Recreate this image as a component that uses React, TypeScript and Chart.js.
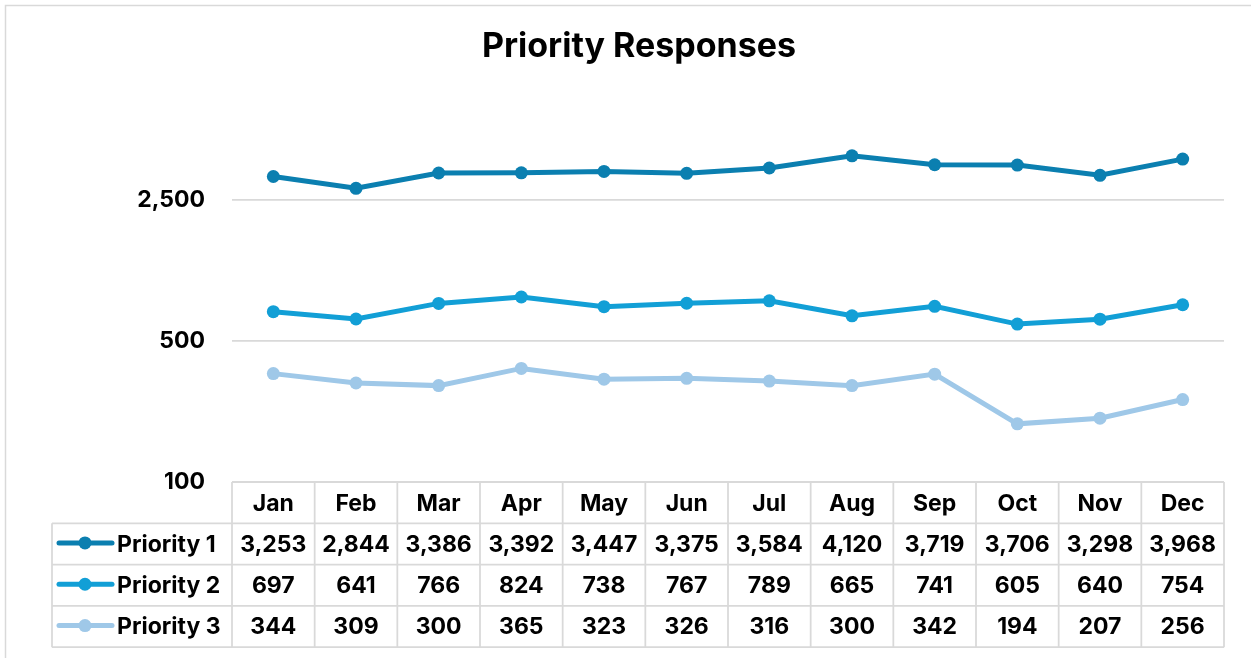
import { useEffect, useRef } from "react";
import { Chart, registerables } from "chart.js";

Chart.register(...registerables);

const months = ["Jan", "Feb", "Mar", "Apr", "May", "Jun", "Jul", "Aug", "Sep", "Oct", "Nov", "Dec"];
const priority1 = [3253, 2844, 3386, 3392, 3447, 3375, 3584, 4120, 3719, 3706, 3298, 3968];
const priority2 = [697, 641, 766, 824, 738, 767, 789, 665, 741, 605, 640, 754];
const priority3 = [344, 309, 300, 365, 323, 326, 316, 300, 342, 194, 207, 256];
const seriesNames = ["Priority 1", "Priority 2", "Priority 3"];
const seriesColors = ["#0B7FB0", "#129FD6", "#9FC8E8"];
const yTicks = [100, 500, 2500];
const chartTitle = "Priority Responses";

const FONT = "Inter, 'Open Sans', 'DejaVu Sans', sans-serif";
const GRID = "#D9D9D9";

const fmt = (v: number) => v.toLocaleString("en-US");

const chromePlugin = {
  id: "chrome",
  beforeDraw(chart: any) {
    const ctx = chart.ctx;
    ctx.save();
    ctx.fillStyle = "#FFFFFF";
    ctx.fillRect(0, 0, chart.width, chart.height);
    ctx.strokeStyle = GRID;
    ctx.lineWidth = 1.5;
    ctx.beginPath();
    ctx.moveTo(5.5, chart.height + 5);
    ctx.lineTo(5.5, 5.5);
    ctx.lineTo(chart.width + 5, 5.5);
    ctx.stroke();
    ctx.fillStyle = "#000000";
    ctx.font = `bold 34px ${FONT}`;
    ctx.textAlign = "center";
    ctx.textBaseline = "alphabetic";
    ctx.fillText(chartTitle, 639, 57);
    ctx.restore();
  },
  afterDraw(chart: any) {
    const ctx = chart.ctx;
    const area = chart.chartArea;
    const xs = chart.scales.x;
    const n = months.length;
    const w = (area.right - area.left) / n;
    const rowH = 41.3;
    const top = area.bottom;
    const headerLeft = area.left - 180;
    const rows = [priority1, priority2, priority3];
    ctx.save();
    ctx.strokeStyle = GRID;
    ctx.lineWidth = 1.75;
    ctx.beginPath();
    for (let i = 0; i <= n; i++) {
      const x = area.left + i * w;
      ctx.moveTo(x, top);
      ctx.lineTo(x, top + rowH * 4);
    }
    ctx.moveTo(area.left, top);
    ctx.lineTo(area.right, top);
    for (let k = 1; k <= 4; k++) {
      ctx.moveTo(headerLeft, top + rowH * k);
      ctx.lineTo(area.right, top + rowH * k);
    }
    ctx.moveTo(headerLeft, top + rowH);
    ctx.lineTo(headerLeft, top + rowH * 4);
    ctx.stroke();

    ctx.fillStyle = "#000000";
    ctx.font = `bold 23px ${FONT}`;
    ctx.textAlign = "center";
    ctx.textBaseline = "middle";
    months.forEach((m, i) => {
      const cx = xs.getPixelForValue(i);
      ctx.fillText(m, cx, top + rowH * 0.5 + 1);
    });
    rows.forEach((vals, r) => {
      const cy = top + rowH * (r + 1.5) + 1;
      vals.forEach((v, i) => {
        const cx = xs.getPixelForValue(i);
        ctx.fillStyle = "#000000";
        ctx.textAlign = "center";
        ctx.fillText(fmt(v), cx, cy);
      });
      ctx.strokeStyle = seriesColors[r];
      ctx.lineWidth = 5;
      ctx.lineCap = "round";
      ctx.beginPath();
      ctx.moveTo(headerLeft + 7, cy - 2);
      ctx.lineTo(headerLeft + 60, cy - 2);
      ctx.stroke();
      ctx.fillStyle = seriesColors[r];
      ctx.beginPath();
      ctx.arc(headerLeft + 33, cy - 2, 6.5, 0, Math.PI * 2);
      ctx.fill();
      ctx.fillStyle = "#000000";
      ctx.textAlign = "left";
      ctx.fillText(seriesNames[r], headerLeft + 65, cy);
    });
    ctx.restore();
  },
};

export default function App() {
  const ref = useRef<HTMLCanvasElement | null>(null);
  useEffect(() => {
    if (!ref.current) return;
    const data = [priority1, priority2, priority3];
    const chart = new Chart(ref.current, {
      type: "line",
      data: {
        labels: months,
        datasets: data.map((d, i) => ({
          label: seriesNames[i],
          data: d,
          borderColor: seriesColors[i],
          backgroundColor: seriesColors[i],
          pointBackgroundColor: seriesColors[i],
          pointBorderWidth: 0,
          pointRadius: 6.5,
          borderWidth: 5,
          tension: 0,
          order: 3 - i,
        })),
      },
      options: {
        responsive: false,
        animation: false,
        layout: { padding: { left: 5, right: 27, top: 78, bottom: 176 } },
        plugins: {
          legend: { display: false },
          tooltip: { enabled: false },
          title: { display: false },
        },
        scales: {
          x: { type: "category", display: false, offset: true },
          y: {
            type: "logarithmic",
            min: 100,
            max: 10000,
            afterBuildTicks: (scale: any) => {
              scale.ticks = yTicks.map((v) => ({ value: v }));
            },
            afterFit: (scale: any) => {
              scale.width = 227;
            },
            border: { display: false },
            grid: { color: GRID, lineWidth: 1.75, drawTicks: false },
            ticks: {
              padding: 27,
              color: "#000000",
              font: { family: FONT, size: 23, weight: "bold" },
              callback: (v: any) => fmt(Number(v)),
              autoSkip: false,
            },
          },
        },
      },
      plugins: [chromePlugin],
    } as any);
    return () => chart.destroy();
  }, []);
  return (
    <div style={{ position: "fixed", left: 0, top: 0, width: 1251, height: 658 }}>
      <canvas ref={ref} width={1251} height={658} style={{ display: "block" }} />
    </div>
  );
}
